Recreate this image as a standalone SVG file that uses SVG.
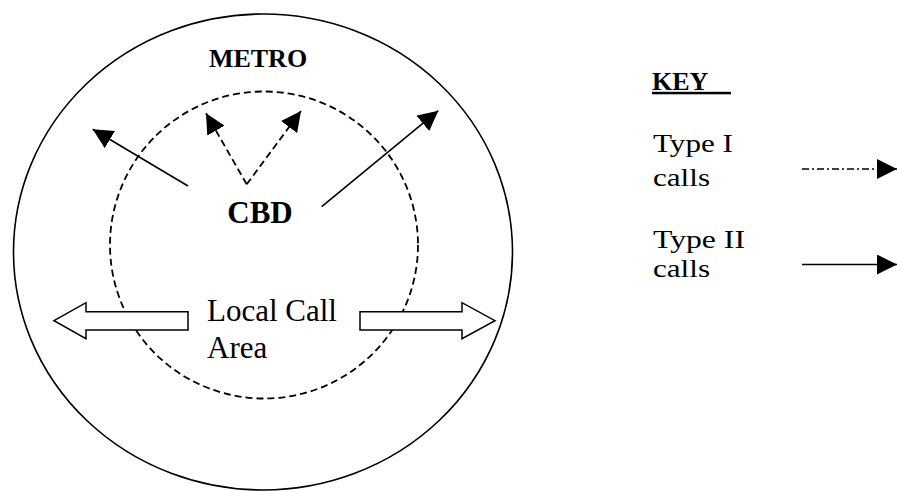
<svg xmlns="http://www.w3.org/2000/svg" width="897" height="491" viewBox="0 0 897 491">
<style>
  .t { font-family: "Liberation Serif", "Times New Roman", serif; fill: #000; }
  .b { font-weight: bold; }
  .solid { stroke: #000; stroke-width: 1.6; fill: none; }
  .dash { stroke: #000; stroke-width: 1.8; fill: none; stroke-dasharray: 7 4; }
  .dashdot { stroke: #000; stroke-width: 1.6; fill: none; stroke-dasharray: 7 3 2 3; }
  .block { stroke: #000; stroke-width: 1.5; fill: #fff; }
</style>
<defs>
  <marker id="ah" markerUnits="userSpaceOnUse" viewBox="0 0 20 20" refX="20" refY="10" markerWidth="20" markerHeight="20" orient="auto">
    <path d="M0,0 L20,10 L0,20 Z" fill="#000"/>
  </marker>
</defs>
<rect width="897" height="491" fill="#fff"/>

<g id="metro">
  <ellipse cx="263" cy="252" rx="249.5" ry="238" class="solid" stroke-width="1.4"/>
  <text class="t b" x="258" y="67" font-size="26" text-anchor="middle">METRO</text>
</g>

<g id="cbd">
  <ellipse cx="264" cy="245" rx="154" ry="153.5" class="dash"/>
  <text class="t b" x="260" y="223" font-size="31" text-anchor="middle">CBD</text>
</g>

<g id="connectors">
  <line x1="188" y1="186" x2="92.7" y2="129.3" class="solid" marker-end="url(#ah)"/>
  <line x1="321.7" y1="206.7" x2="438.3" y2="110.7" class="solid" marker-end="url(#ah)"/>
  <line x1="246.7" y1="184.3" x2="206" y2="113.3" class="dash" stroke-width="1.6" marker-end="url(#ah)"/>
  <line x1="246.7" y1="184.3" x2="301" y2="111" class="dash" stroke-width="1.6" marker-end="url(#ah)"/>
</g>

<g id="local-call-area">
  <polygon class="block" points="54,320.7 86,302.7 86,311.7 188,311.7 188,330 86,330 86,338.7"/>
  <polygon class="block" points="360,311.7 462,311.7 462,302.7 495,320.7 462,338.7 462,330 360,330"/>
  <text class="t" x="207" y="321" font-size="31">Local Call</text>
  <text class="t" x="207" y="358" font-size="31">Area</text>
</g>

<g id="key">
  <text class="t b" x="652" y="90" font-size="26">KEY</text>
  <rect x="652" y="91.8" width="79" height="2.5" fill="#000"/>
  <text class="t" x="653" y="152" font-size="26" textLength="80" lengthAdjust="spacingAndGlyphs">Type I</text>
  <text class="t" x="653" y="186" font-size="26" textLength="57" lengthAdjust="spacingAndGlyphs">calls</text>
  <text class="t" x="653" y="248" font-size="26" textLength="92" lengthAdjust="spacingAndGlyphs">Type II</text>
  <text class="t" x="653" y="277" font-size="26" textLength="57" lengthAdjust="spacingAndGlyphs">calls</text>
</g>

<g id="key-arrows">
  <line x1="802" y1="169" x2="897" y2="169" class="dashdot" marker-end="url(#ah)"/>
  <line x1="802" y1="264.5" x2="897" y2="264.5" class="solid" marker-end="url(#ah)"/>
</g>
</svg>
